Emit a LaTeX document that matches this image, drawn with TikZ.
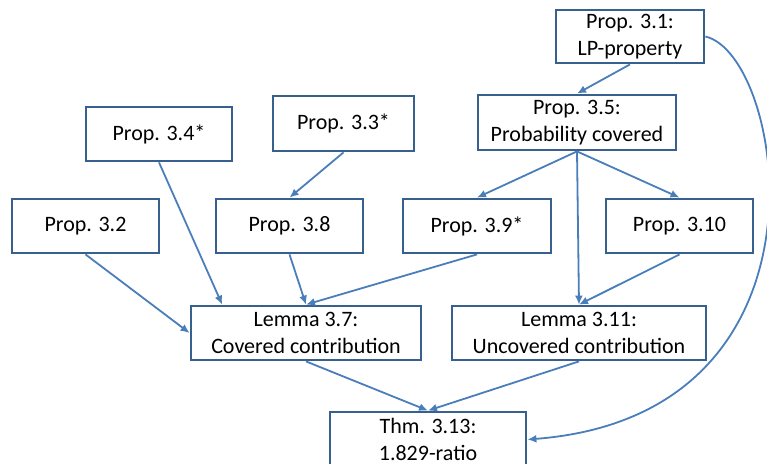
\documentclass[tikz,border=0pt]{standalone}
\usepackage{fontspec}
\setmainfont{Carlito}
\usetikzlibrary{calc,arrows.meta}

\definecolor{boxline}{HTML}{38608F}
\definecolor{arrline}{HTML}{4A7EBB}

\tikzset{
	res/.style={draw=boxline, line width=2.8pt, fill=white, align=center, inner sep=0pt,
		minimum width=147pt, minimum height=54pt, font=\fontsize{22}{26.8}\selectfont},
	dep/.style={draw=arrline, line width=1.8pt, -{Latex[length=9pt,width=8pt]}},
}

\begin{document}
\begin{tikzpicture}[x=1pt,y=-1pt]
		\clip (0,0) rectangle (767,463);
		%top row
		\node[res, minimum width=148pt, minimum height=53pt] (p31) at (630,36.5) {Prop. 3.1:\\LP-property};
		\node[res, minimum width=198pt, minimum height=55pt] (p35) at (577,122.5) {Prop. 3.5:\\Probability covered};
		\node[res, minimum width=146pt] (p34) at (159,134) {Prop. 3.4*};
		\node[res, minimum width=141pt, minimum height=55pt] (p33) at (343.5,123.5) {Prop. 3.3*};
		%middle row
		\node[res] (p32) at (85.5,226) {Prop. 3.2};
		\node[res] (p38) at (289.5,226) {Prop. 3.8};
		\node[res, minimum width=148pt] (p39) at (477,226) {Prop. 3.9*};
		\node[res] (p310) at (679.5,226) {Prop. 3.10};
		%lemmas
		\node[res, minimum width=230pt] (l37) at (306,333) {Lemma 3.7:\\Covered contribution};
		\node[res, minimum width=254pt] (l311) at (579,333) {Lemma 3.11:\\Uncovered contribution};
		%theorem
		\node[res, minimum width=196pt, minimum height=55pt] (thm) at (428,439.5) {Thm. 3.13:\\1.829-ratio};
		
		\draw[dep] (p31.south) -- (p35.north);
		\draw[dep] (p35.south) -- (p39.north);
		\draw[dep] (p35.south) -- (p310.north);
		\draw[dep] (p35.south) -- (l311.north);
		\draw[dep] (p310.south) -- (l311.north);
		\draw[dep] (p33.south) -- (p38.north);
		\draw[dep] (p34.south) -- ($(l37.north west)!0.14!(l37.north east)$);
		\draw[dep] (p32.south) -- (l37.west);
		\draw[dep] (p38.south) -- (l37.north);
		\draw[dep] (p39.south) -- (l37.north);
		\draw[dep] (l37.south) -- (thm.north);
		\draw[dep] (l311.south) -- (thm.north);
		\draw[dep] (p31.east) .. controls (785,55) and (845,415) .. (thm.east);
\end{tikzpicture}
\end{document}
